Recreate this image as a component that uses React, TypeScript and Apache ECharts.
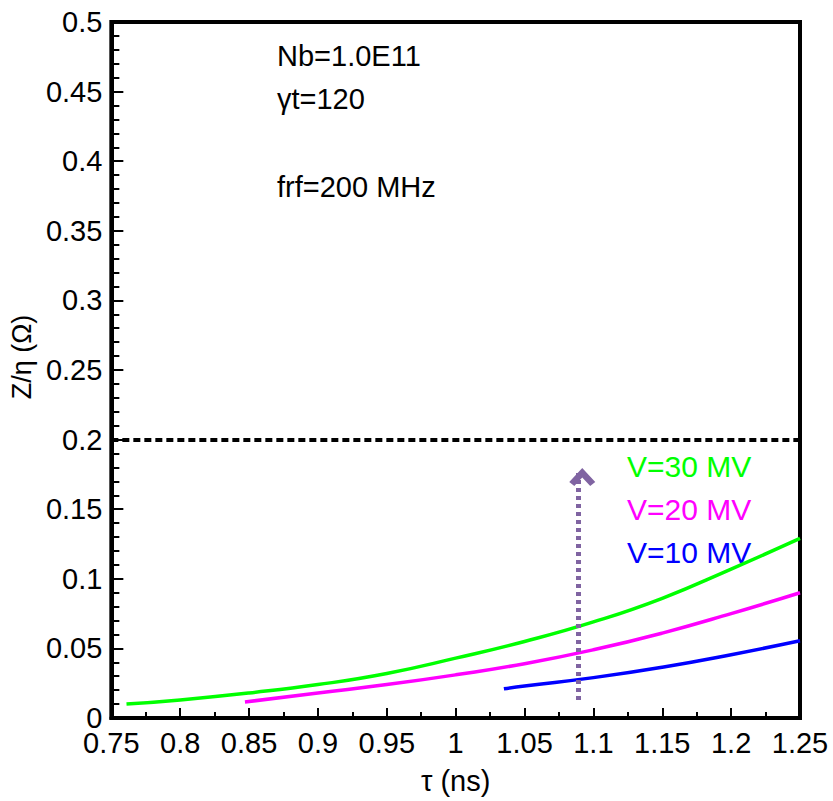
import React, { useEffect, useRef } from "react";
import * as echarts from "echarts";

const tau30 = [0.761, 0.8, 0.85, 0.9, 0.95, 1.0, 1.05, 1.1, 1.15, 1.2, 1.25];
const z30 = [0.010, 0.013, 0.018, 0.024, 0.032, 0.043, 0.055, 0.069, 0.086, 0.107, 0.129];

const tau20 = [0.847, 0.9, 0.95, 1.0, 1.05, 1.1, 1.15, 1.2, 1.25];
const z20 = [0.0115, 0.018, 0.024, 0.031, 0.039, 0.049, 0.061, 0.075, 0.09];

const tau10 = [1.035, 1.05, 1.1, 1.15, 1.2, 1.25];
const z10 = [0.021, 0.023, 0.029, 0.0365, 0.0455, 0.0555];

const limitZ = 0.2;
const arrowTau = 1.089;
const arrowFrom = 0.013;
const arrowTo = 0.176;

const seriesNames = ["V=30 MV", "V=20 MV", "V=10 MV"];
const seriesColors = ["#00ff00", "#ff00ff", "#0000ff"];
const notes = ["Nb=1.0E11", "γt=120", "frf=200 MHz"];

const FONT = "'Liberation Sans', Arial, sans-serif";

function pairs(xs: number[], ys: number[]) {
  return xs.map((x, i) => [x, ys[i]]);
}

export default function App() {
  const ref = useRef<HTMLDivElement>(null);
  useEffect(() => {
    if (!ref.current) return;
    const chart = echarts.init(ref.current, null, { renderer: "svg" });
    const lineSeries = (name: string, data: number[][], color: string) => ({
      type: "line",
      name,
      data,
      smooth: true,
      showSymbol: false,
      lineStyle: { color, width: 3.5 },
      z: 3,
    });
    chart.setOption({
      animation: false,
      backgroundColor: "#ffffff",
      grid: {
        left: 101,
        right: 33,
        top: 22,
        bottom: 83,
        show: true,
        borderColor: "#000",
        borderWidth: 4,
        backgroundColor: "transparent",
      },
      xAxis: {
        type: "value",
        min: 0.75,
        max: 1.25,
        interval: 0.05,
        name: "τ (ns)",
        nameLocation: "middle",
        nameGap: 48,
        nameTextStyle: { fontFamily: FONT, fontSize: 29, color: "#000" },
        axisLine: { show: true, lineStyle: { color: "#000", width: 4 } },
        axisTick: { show: true, inside: true, length: 10, lineStyle: { color: "#000", width: 2 } },
        minorTick: { show: true, splitNumber: 2, length: 6, lineStyle: { color: "#000", width: 2 } },
        splitLine: { show: false },
        axisLabel: {
          fontFamily: FONT,
          fontSize: 29,
          color: "#000",
          margin: 10,
          formatter: (v: number) => String(Math.round(v * 100) / 100),
        },
      },
      yAxis: {
        type: "value",
        min: 0,
        max: 0.5,
        interval: 0.05,
        name: "Z/η (Ω)",
        nameLocation: "middle",
        nameGap: 62,
        nameTextStyle: { fontFamily: FONT, fontSize: 27, color: "#000", padding: [0, 0, 0, 26] },
        axisLine: { show: true, lineStyle: { color: "#000", width: 4 } },
        axisTick: { show: true, inside: true, length: 12, lineStyle: { color: "#000", width: 2 } },
        minorTick: { show: true, splitNumber: 5, length: 8, lineStyle: { color: "#000", width: 2 } },
        splitLine: { show: false },
        axisLabel: {
          fontFamily: FONT,
          fontSize: 29,
          color: "#000",
          margin: 9,
          formatter: (v: number) => String(Math.round(v * 100) / 100),
        },
      },
      series: [
        {
          ...lineSeries(seriesNames[0], pairs(tau30, z30), seriesColors[0]),
          markLine: {
            silent: true,
            symbol: ["none", "none"],
            label: { show: false },
            lineStyle: { color: "#000", width: 4, type: [7, 4] },
            data: [{ yAxis: limitZ }],
          },
        },
        lineSeries(seriesNames[1], pairs(tau20, z20), seriesColors[1]),
        lineSeries(seriesNames[2], pairs(tau10, z10), seriesColors[2]),
        {
          type: "line",
          name: "arrow",
          data: [],
          markLine: {
            silent: true,
            symbol: ["none", "path://M0,9 L9,0 L18,9 L14.5,11.5 L9,6 L3.5,11.5 Z"],
            symbolSize: [26, 18],
            symbolOffset: [0, 4],
            label: { show: false },
            lineStyle: {
              color: "#8064a2",
              width: 5,
              type: [4, 4],
              opacity: 1,
            },
            itemStyle: { color: "#8064a2" },
            data: [[{ coord: [arrowTau, arrowFrom] }, { coord: [arrowTau, arrowTo] }]],
          },
          z: 4,
        },
      ],
      graphic: [
        { type: "text", left: 277, top: 41, style: { text: notes[0], font: `29px ${FONT}`, fill: "#000" } },
        { type: "text", left: 277, top: 84, style: { text: notes[1], font: `29px ${FONT}`, fill: "#000" } },
        { type: "text", left: 277, top: 172, style: { text: notes[2], font: `29px ${FONT}`, fill: "#000" } },
        { type: "text", left: 627, top: 451, style: { text: seriesNames[0], font: `30px ${FONT}`, fill: seriesColors[0] } },
        { type: "text", left: 627, top: 494, style: { text: seriesNames[1], font: `30px ${FONT}`, fill: seriesColors[1] } },
        { type: "text", left: 627, top: 537, style: { text: seriesNames[2], font: `30px ${FONT}`, fill: seriesColors[2] } },
      ],
    });
    return () => chart.dispose();
  }, []);
  return <div ref={ref} style={{ width: 833, height: 801, position: "absolute", left: 0, top: 0 }} />;
}
